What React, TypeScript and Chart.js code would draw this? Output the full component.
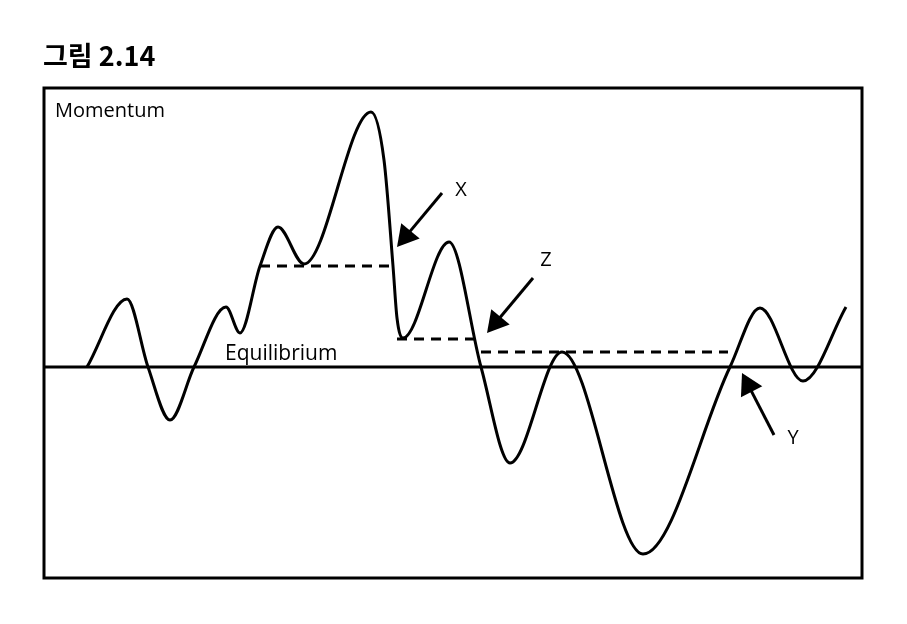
import React, { useEffect, useRef } from "react";
import { Chart, registerables } from "chart.js";

Chart.register(...registerables);

// Curve: time vs momentum
const timeValues = [43, 83, 104, 126, 150, 182, 196, 216, 234, 260, 327, 340, 349, 353, 359, 405, 437, 466, 518, 599, 686, 716, 759, 802];
const momentumValues = [0, 68, 0, -53, 0, 60, 34, 101, 140, 103, 255, 207, 101, 49, 29, 125, 0, -96, 15, -187, 0, 59, -14, 60];

// Dashed reference levels
const dashLevels = [101, 28, 15];
const dashStarts = [216, 353, 437];
const dashEnds = [349, 434, 684];

// Arrows and labels
const arrowLabels = ["X", "Z", "Y"];
const arrowTailX = [398, 489, 730];
const arrowTailY = [174, 89, -68];
const arrowTipX = [353, 443, 698];
const arrowTipY = [120, 34, -6];
const labelX = [417, 502, 749];
const labelY = [177, 107, -71];

const X_MIN = 0;
const X_MAX = 818;
const Y_MIN = -211;
const Y_MAX = 279;

const titleText = "그림 2.14";
const axisLabel = "Momentum";
const equilibriumLabel = "Equilibrium";

const decorPlugin = {
  id: "decor",
  afterDatasetsDraw(chart: any) {
    const { ctx, chartArea, scales } = chart;
    const xs = scales.x;
    const ys = scales.y;
    ctx.save();
    // frame
    ctx.strokeStyle = "#000";
    ctx.lineWidth = 3;
    ctx.strokeRect(chartArea.left, chartArea.top, chartArea.right - chartArea.left, chartArea.bottom - chartArea.top);

    // arrows
    for (let i = 0; i < arrowLabels.length; i++) {
      const tx = xs.getPixelForValue(arrowTailX[i]);
      const ty = ys.getPixelForValue(arrowTailY[i]);
      const hx = xs.getPixelForValue(arrowTipX[i]);
      const hy = ys.getPixelForValue(arrowTipY[i]);
      const ang = Math.atan2(hy - ty, hx - tx);
      const headLen = 21;
      const headHalf = 12;
      const bx = hx - Math.cos(ang) * headLen;
      const by = hy - Math.sin(ang) * headLen;
      ctx.beginPath();
      ctx.lineWidth = 3;
      ctx.lineCap = "butt";
      ctx.moveTo(tx, ty);
      ctx.lineTo(bx + Math.cos(ang) * 2, by + Math.sin(ang) * 2);
      ctx.stroke();
      ctx.beginPath();
      ctx.moveTo(hx, hy);
      ctx.lineTo(bx + Math.cos(ang + Math.PI / 2) * headHalf, by + Math.sin(ang + Math.PI / 2) * headHalf);
      ctx.lineTo(bx - Math.cos(ang + Math.PI / 2) * headHalf, by - Math.sin(ang + Math.PI / 2) * headHalf);
      ctx.closePath();
      ctx.fillStyle = "#000";
      ctx.fill();

      ctx.font = '20px "Open Sans", sans-serif';
      ctx.textAlign = "center";
      ctx.textBaseline = "middle";
      ctx.fillText(arrowLabels[i], xs.getPixelForValue(labelX[i]), ys.getPixelForValue(labelY[i]));
    }

    // texts
    ctx.fillStyle = "#000";
    ctx.textAlign = "left";
    ctx.textBaseline = "alphabetic";
    ctx.font = '20px "Open Sans", sans-serif';
    ctx.fillText(axisLabel, chartArea.left + 11, chartArea.top + 29);
    ctx.font = '21px "Open Sans", sans-serif';
    ctx.fillText(equilibriumLabel, xs.getPixelForValue(181), ys.getPixelForValue(7));

    ctx.font = 'bold 27px "Noto Sans CJK KR", "Noto Sans", sans-serif';
    ctx.fillText(titleText, chartArea.left - 1, chartArea.top - 22);
    ctx.restore();
  },
};

export default function App() {
  const ref = useRef<HTMLCanvasElement | null>(null);
  useEffect(() => {
    if (!ref.current) return;
    const curve = timeValues.map((t, i) => ({ x: t, y: momentumValues[i] }));
    const datasets: any[] = [
      {
        data: curve,
        borderColor: "#000",
        borderWidth: 3,
        pointRadius: 0,
        cubicInterpolationMode: "monotone",
        fill: false,
      },
      {
        data: [
          { x: X_MIN, y: 0 },
          { x: X_MAX, y: 0 },
        ],
        borderColor: "#000",
        borderWidth: 3,
        pointRadius: 0,
        fill: false,
      },
    ];
    dashLevels.forEach((lvl, i) => {
      datasets.push({
        data: [
          { x: dashStarts[i], y: lvl },
          { x: dashEnds[i], y: lvl },
        ],
        borderColor: "#000",
        borderWidth: 3,
        borderDash: [10, 7],
        pointRadius: 0,
        fill: false,
      });
    });
    const chart = new Chart(ref.current, {
      type: "line",
      data: { datasets },
      options: {
        responsive: false,
        animation: false,
        events: [],
        layout: { padding: { left: 36, right: 37, top: 80, bottom: 38 } },
        plugins: { legend: { display: false }, tooltip: { enabled: false }, title: { display: false } },
        scales: {
          x: { type: "linear", min: X_MIN, max: X_MAX, display: false },
          y: { type: "linear", min: Y_MIN, max: Y_MAX, display: false },
        },
      },
      plugins: [decorPlugin],
    } as any);
    return () => chart.destroy();
  }, []);
  return (
    <div style={{ width: 891, height: 608 }}>
      <canvas ref={ref} width={891} height={608} />
    </div>
  );
}
